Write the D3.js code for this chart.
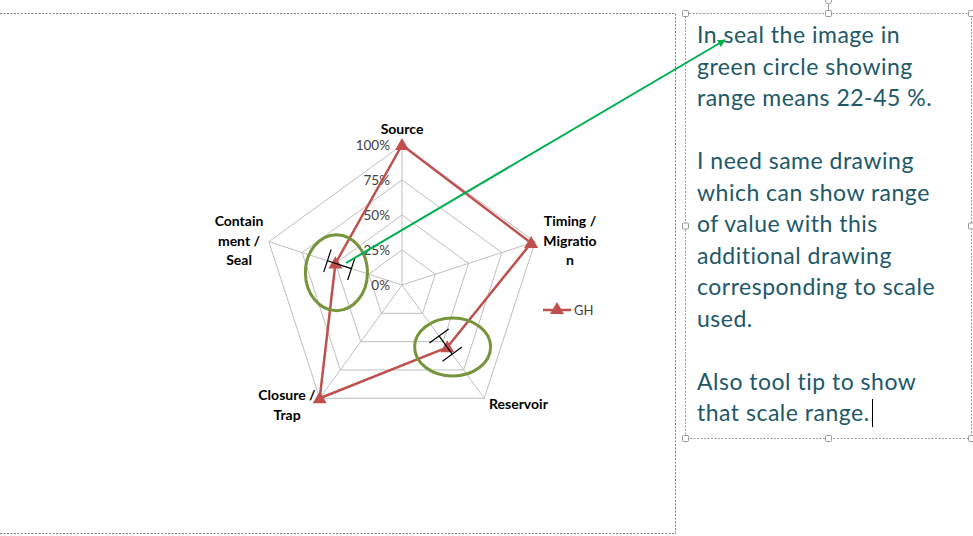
<!DOCTYPE html>
<html><head><meta charset="utf-8">
<script src="https://cdn.jsdelivr.net/npm/d3@7"></script>
<style>
html,body{margin:0;padding:0;background:#fff;}
svg text{font-family:Lato,"Open Sans",sans-serif;}
</style></head>
<body>
<svg id="c" width="973" height="536"></svg>
<script>
// ---- data ----
const categories = ["Source", "Timing / Migration", "Reservoir", "Closure / Trap", "Containment / Seal"];
const categoryLines = [["Source"], ["Timing /", "Migratio", "n"], ["Reservoir"], ["Closure /", "Trap"], ["Contain", "ment /", "Seal"]];
const seriesName = "GH";
const ghValues = [1.0, 0.97, 0.55, 1.0, 0.5];
const rangeLow = [null, null, 0.45, null, 0.38];
const rangeHigh = [null, null, 0.61, null, 0.56];
const tickValues = [0, 0.25, 0.5, 0.75, 1.0];
const tickLabels = ["0%", "25%", "50%", "75%", "100%"];
const noteLines = ["In seal the image in", "green circle showing", "range means 22-45 %.", "",
  "I need same drawing", "which can show range", "of value with this", "additional drawing",
  "corresponding to scale", "used.", "", "Also tool tip to show", "that scale range."];

// ---- layout ----
const svg = d3.select("#c");
const cx = 402, cy = 285, R = 140;
const r = d3.scaleLinear().domain([0, 1]).range([0, R]);
const ang = d3.scaleLinear().domain([0, categories.length]).range([0, 2 * Math.PI]);
const pt = (i, v) => [cx + r(v) * Math.sin(ang(i)), cy - r(v) * Math.cos(ang(i))];

// chart area border (dotted)
svg.append("path").attr("d", "M0,13.5 H675.5 V533.5 H0")
  .attr("fill", "none").attr("stroke", "#808080").attr("stroke-dasharray", "2,1.5");

// grid rings
tickValues.filter(t => t > 0).forEach(t => {
  svg.append("polygon")
    .attr("points", categories.map((c, i) => pt(i, t).join(",")).join(" "))
    .attr("fill", "none").attr("stroke", "#BFBFBF").attr("stroke-width", 1);
});
// spokes
categories.forEach((c, i) => {
  const p = pt(i, 1);
  svg.append("line").attr("x1", cx).attr("y1", cy).attr("x2", p[0]).attr("y2", p[1])
    .attr("stroke", "#BFBFBF").attr("stroke-width", 1);
});
// tick labels
tickValues.forEach((t, k) => {
  svg.append("text").attr("x", cx - 12).attr("y", cy - r(t) + 5)
    .attr("text-anchor", "end").attr("font-size", 13.5).attr("fill", "#404040")
    .text(tickLabels[k]);
});
// category labels
const labelLayout = [
  {dx: 0, dy: -151, anchor: "middle"},
  {dx: 168, dy: -59, anchor: "middle"},
  {dx: 87, dy: 124, anchor: "start"},
  {dx: -115, dy: 115, anchor: "middle"},
  {dx: -163, dy: -59, anchor: "middle"}
];
categories.forEach((c, i) => {
  const L = labelLayout[i];
  const t = svg.append("text").attr("font-size", 14).attr("font-weight", "bold")
    .attr("fill", "#000").attr("text-anchor", L.anchor);
  categoryLines[i].forEach((ln, j) => {
    t.append("tspan").attr("x", cx + L.dx).attr("y", cy + L.dy + j * 19.5).text(ln);
  });
});

// series line
const lineColor = "#C0504D";
svg.append("polygon")
  .attr("points", ghValues.map((v, i) => pt(i, v).join(",")).join(" "))
  .attr("fill", "none").attr("stroke", lineColor).attr("stroke-width", 2.5)
  .attr("stroke-linejoin", "round");
const tri = d3.symbol().type(d3.symbolTriangle).size(85);
ghValues.forEach((v, i) => {
  const p = pt(i, v);
  svg.append("path").attr("d", tri()).attr("transform", `translate(${p[0]},${p[1] + 1})`)
    .attr("fill", lineColor)
    .append("title").text(`${categories[i]}: ${Math.round(v * 100)}%` +
      (rangeLow[i] != null ? ` (range ${Math.round(rangeLow[i] * 100)}–${Math.round(rangeHigh[i] * 100)}%)` : ""));
});

// range bars
ghValues.forEach((v, i) => {
  if (rangeLow[i] == null) return;
  const a = pt(i, rangeLow[i]), b = pt(i, rangeHigh[i]);
  const ux = Math.sin(ang(i)), uy = -Math.cos(ang(i));
  const px = -uy, py = ux, h = 12;
  const g = svg.append("g").attr("stroke", "#000").attr("stroke-width", 1.2);
  g.append("line").attr("x1", a[0]).attr("y1", a[1]).attr("x2", b[0]).attr("y2", b[1]);
  [a, b].forEach(q => g.append("line")
    .attr("x1", q[0] - px * h).attr("y1", q[1] - py * h)
    .attr("x2", q[0] + px * h).attr("y2", q[1] + py * h));
  g.append("title").text(`${categories[i]} range: ${Math.round(rangeLow[i] * 100)}–${Math.round(rangeHigh[i] * 100)}%`);
  // green ellipse
  const m = pt(i, (rangeLow[i] + rangeHigh[i]) / 2);
  const ell = i === 4 ? {rx: 31, ry: 38, ox: -3, oy: 8} : {rx: 38, ry: 29, ox: 7, oy: 2};
  svg.append("ellipse").attr("cx", m[0] + ell.ox).attr("cy", m[1] + ell.oy)
    .attr("rx", ell.rx).attr("ry", ell.ry)
    .attr("fill", "none").attr("stroke", "#77933C").attr("stroke-width", 3);
});

// legend
const lg = svg.append("g").attr("transform", "translate(543,310)");
lg.append("line").attr("x1", 0).attr("x2", 28).attr("stroke", lineColor).attr("stroke-width", 2.5);
lg.append("path").attr("d", tri()).attr("transform", "translate(14,0)").attr("fill", lineColor);
lg.append("text").attr("x", 31).attr("y", 5).attr("font-size", 13).attr("fill", "#404040").text(seriesName);

// note text box
const box = {x: 685.5, y: 13.5, w: 286, h: 425};
svg.append("rect").attr("x", box.x).attr("y", box.y).attr("width", box.w).attr("height", box.h)
  .attr("fill", "none").attr("stroke", "#999").attr("stroke-dasharray", "2,1.5");
svg.append("line").attr("x1", box.x + box.w / 2).attr("x2", box.x + box.w / 2).attr("y1", 3).attr("y2", box.y)
  .attr("stroke", "#999");
svg.append("circle").attr("cx", box.x + box.w / 2).attr("cy", 1).attr("r", 3).attr("fill", "#fff").attr("stroke", "#999");
[[0, 0], [0.5, 0], [1, 0], [0, 0.5], [1, 0.5], [0, 1], [0.5, 1], [1, 1]].forEach(([fx, fy]) => {
  svg.append("rect").attr("x", box.x + fx * box.w - 3).attr("y", box.y + fy * box.h - 3)
    .attr("width", 6).attr("height", 6).attr("rx", 1).attr("fill", "#fff").attr("stroke", "#999");
});
const nt = svg.append("text").attr("font-size", 23).attr("letter-spacing", 0.5).attr("fill", "#215868");
noteLines.forEach((ln, j) => {
  nt.append("tspan").attr("x", 697).attr("y", 43 + j * 31.5).text(ln);
});
svg.append("line").attr("x1", 872.5).attr("x2", 872.5).attr("y1", 399).attr("y2", 427).attr("stroke", "#000");

// green arrow
svg.append("defs").append("marker").attr("id", "ah").attr("viewBox", "0 0 10 10")
  .attr("refX", 9).attr("refY", 5).attr("markerWidth", 4).attr("markerHeight", 4).attr("orient", "auto")
  .append("path").attr("d", "M0,0 L10,5 L0,10 z").attr("fill", "#00B050");
svg.append("line").attr("x1", 346).attr("y1", 263).attr("x2", 725).attr("y2", 40)
  .attr("stroke", "#00B050").attr("stroke-width", 2).attr("marker-end", "url(#ah)");
</script>
</body></html>
